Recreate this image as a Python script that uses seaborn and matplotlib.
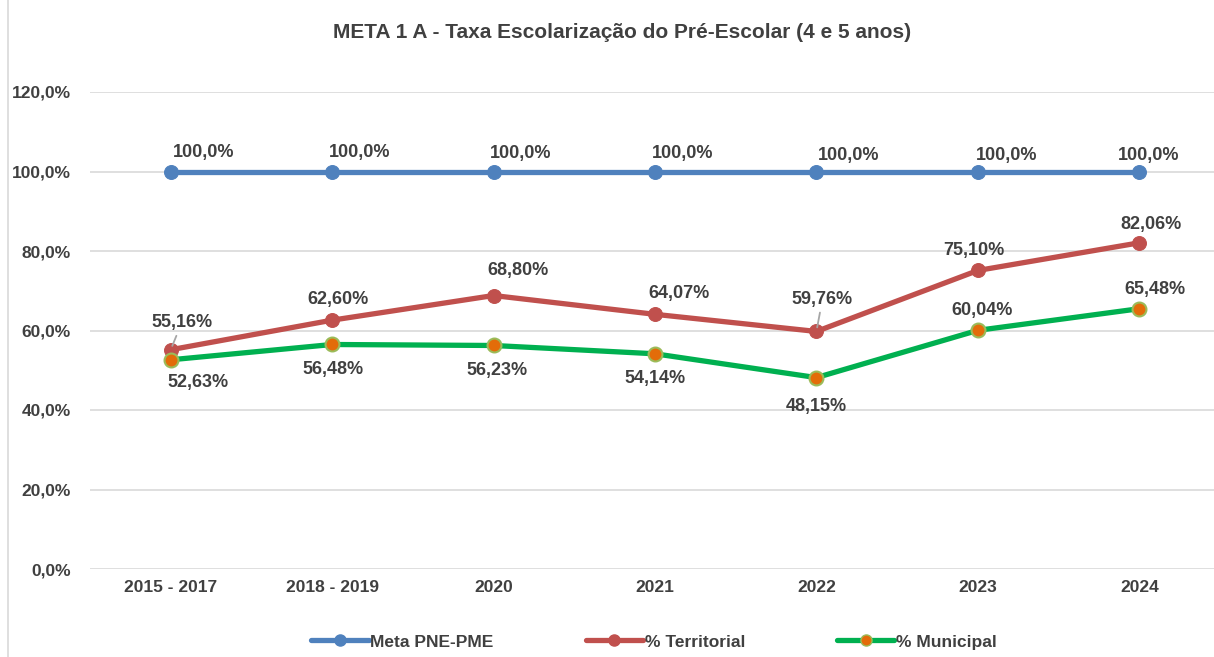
import matplotlib
matplotlib.use("Agg")
import matplotlib.pyplot as plt
from matplotlib.lines import Line2D
from matplotlib.patches import Rectangle
import seaborn as sns
import pandas as pd

# data
periodos = ["2015 - 2017", "2018 - 2019", "2020", "2021", "2022", "2023", "2024"]
meta = [100.0, 100.0, 100.0, 100.0, 100.0, 100.0, 100.0]
territorial = [55.16, 62.60, 68.80, 64.07, 59.76, 75.10, 82.06]
municipal = [52.63, 56.48, 56.23, 54.14, 48.15, 60.04, 65.48]

sns.set_theme(style="white")
plt.rcParams['font.family'] = ['Liberation Sans', 'DejaVu Sans']

txt = "#404040"
azul, verm, verde = "#4F81BD", "#C0504D", "#00B050"

fig = plt.figure(figsize=(12.14, 6.57), dpi=100)
ax = fig.add_axes([90/1214, 88/657, 1124/1214, 477/657])

pos = list(range(len(periodos)))
df = pd.DataFrame({"pos": pos, "meta": meta, "terr": territorial, "mun": municipal})

sns.lineplot(data=df, x="pos", y="meta", ax=ax, color=azul, lw=3.8, marker="o",
             markersize=10, markeredgecolor=azul, label="Meta PNE-PME")
sns.lineplot(data=df, x="pos", y="terr", ax=ax, color=verm, lw=3.8, marker="o",
             markersize=10, markeredgecolor=verm, label="% Territorial")
sns.lineplot(data=df, x="pos", y="mun", ax=ax, color=verde, lw=3.8, marker="o",
             markersize=10, markerfacecolor="#E36C09", markeredgecolor="#9BBB59",
             markeredgewidth=1.5, label="% Municipal")

ax.set_xlim(-0.5, 6.463)
ax.set_ylim(0, 120)
ax.set_yticks([0, 20, 40, 60, 80, 100, 120])
ax.set_yticklabels([f"{v:.1f}%".replace(".", ",") for v in range(0, 121, 20)],
                   fontsize=12.5, fontweight="bold", color=txt)
ax.set_xticks(pos)
ax.set_xticklabels(periodos, fontsize=12.5, fontweight="bold", color=txt)
ax.tick_params(axis="both", length=0, pad=14)
ax.tick_params(axis="x", pad=8)
ax.set_xlabel("")
ax.set_ylabel("")
ax.grid(axis="y", color="#d9d9d9", lw=1.2)
for s in ax.spines.values():
    s.set_visible(False)
ax.set_axisbelow(True)

def pct(v, nd):
    return (f"{v:.{nd}f}%").replace(".", ",")

lab = dict(fontsize=13, fontweight="bold", color=txt, ha="center", va="center",
           textcoords="offset pixels")

off_meta = [(33, 19), (27, 19), (27, 18), (28, 18), (32, 16), (29, 16), (9, 16)]
for i, v in enumerate(meta):
    ax.annotate(pct(v, 1), (i, v), xytext=off_meta[i], **lab)

off_terr = [(11, 27), (6, 21), (24, 25), (24, 21), (6, 32), (-4, 20), (12, 18)]
for i, v in enumerate(territorial):
    extra = {}
    if i in (0, 4):
        extra = dict(arrowprops=dict(arrowstyle="-", color="#a6a6a6", lw=1.3,
                                     shrinkA=1, shrinkB=3))
    ax.annotate(pct(v, 2), (i, v), xytext=off_terr[i], **lab, **extra)

off_mun = [(27, -23), (1, -25), (3, -25), (0, -25), (0, -29), (4, 20), (16, 19)]
for i, v in enumerate(municipal):
    ax.annotate(pct(v, 2), (i, v), xytext=off_mun[i], **lab)

ax.get_legend().remove()
handles = [
    Line2D([], [], color=azul, lw=3.8, marker="o", markersize=8, markeredgecolor=azul),
    Line2D([], [], color=verm, lw=3.8, marker="o", markersize=8, markeredgecolor=verm),
    Line2D([], [], color=verde, lw=3.8, marker="o", markersize=8,
           markerfacecolor="#E36C09", markeredgecolor="#9BBB59"),
]
fig.legend(handles, ["Meta PNE-PME", "% Territorial", "% Municipal"],
           loc="center", bbox_to_anchor=(654/1214, 1 - 642/657), ncol=3, frameon=False,
           prop=dict(size=12.5, weight="bold"), labelcolor=txt, handlelength=3.3,
           handletextpad=0.1, columnspacing=5.3)

fig.text(622/1214, 1 - 32/657, "META 1 A - Taxa Escolarização do Pré-Escolar (4 e 5 anos)",
         ha="center", va="center", fontsize=15, fontweight="bold", color=txt)

fig.add_artist(Rectangle((8/1214, -0.01), 1.2, 1.2, transform=fig.transFigure,
                         fill=False, edgecolor="#d9d9d9", lw=1.2))

fig.savefig("out.png", dpi=100)
